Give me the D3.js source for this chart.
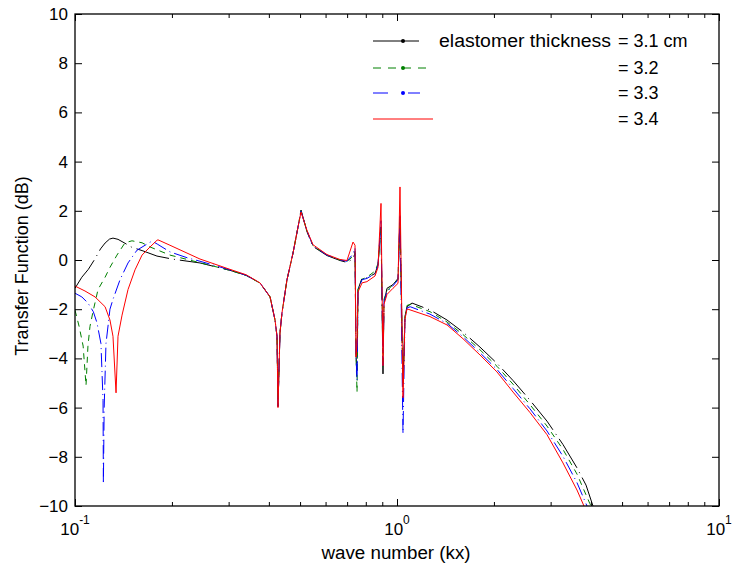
<!DOCTYPE html>
<html>
<head>
<meta charset="utf-8">
<script src="https://cdn.jsdelivr.net/npm/d3@7/dist/d3.min.js"></script>
<style>
  html, body { margin: 0; padding: 0; background: #fff; }
  svg { display: block; font-family: Arial, "Liberation Sans", Helvetica, sans-serif; }
</style>
</head>
<body>
<svg id="chart" width="735" height="571"></svg>
<script>
// ---------------- data (wave number kx, transfer function dB) ----------------
const seriesNames = ["3.1", "3.2", "3.3", "3.4"];

const series31 = [
  [0.1000,-1.15],[0.1014,-1.02],[0.1050,-0.70],[0.1100,-0.38],[0.1154,0.05],[0.1200,0.45],
  [0.1240,0.69],[0.1280,0.85],[0.1312,0.89],[0.1360,0.84],[0.1430,0.68],[0.1500,0.52],
  [0.1626,0.37],[0.1797,0.16],[0.2000,0.04],[0.2444,-0.12],[0.3029,-0.42],[0.3400,-0.62],
  [0.3754,-0.93],[0.4034,-1.50],[0.4180,-2.44],[0.4240,-3.10],[0.4270,-5.95],[0.4331,-2.97],
  [0.4393,-2.15],[0.4554,-0.80],[0.4754,0.28],[0.4927,1.34],[0.5034,2.03],[0.5254,1.15],
  [0.5484,0.55],[0.6062,0.18],[0.6652,-0.02],[0.6993,-0.10],[0.7302,0.05],[0.7407,0.28],
  [0.7460,-3.90],[0.7514,-4.50],[0.7567,-1.20],[0.7788,-0.73],[0.8065,-0.73],[0.8545,-0.55],
  [0.8730,-0.20],[0.8919,1.34],[0.9047,-4.63],[0.9112,-1.75],[0.9309,-1.15],[0.9718,-1.00],
  [1.0072,-0.75],[1.0216,1.70],[1.0438,-5.00],[1.0587,-2.30],[1.0740,-1.90],[1.1133,-1.75],
  [1.266,-2.03],[1.430,-2.44],[1.603,-2.93],[1.810,-3.54],[2.044,-4.20],[2.293,-4.90],
  [2.588,-5.70],[2.923,-6.55],[3.277,-7.50],[3.622,-8.45],[3.864,-9.15],[4.061,-10.0]
];

const series32 = [
  [0.1000,-2.04],[0.1030,-2.70],[0.1060,-3.50],[0.1082,-5.10],[0.1097,-3.50],[0.1113,-2.70],
  [0.1140,-2.04],[0.1179,-1.20],[0.1240,-0.70],[0.1284,-0.30],[0.1350,0.20],[0.1430,0.70],
  [0.1503,0.78],[0.1615,0.70],[0.1710,0.53],[0.1972,0.20],[0.2393,-0.08],[0.3029,-0.42],
  [0.3400,-0.63],[0.3754,-0.94],[0.4034,-1.50],[0.4180,-2.44],[0.4240,-3.10],[0.4270,-5.95],
  [0.4331,-2.97],[0.4393,-2.15],[0.4554,-0.80],[0.4754,0.28],[0.4927,1.34],[0.5034,2.00],
  [0.5254,1.18],[0.5484,0.58],[0.6062,0.20],[0.6652,0.00],[0.6993,-0.06],[0.7302,0.15],
  [0.7407,0.35],[0.7460,-3.90],[0.7514,-5.37],[0.7567,-1.20],[0.7788,-0.78],[0.8065,-0.70],
  [0.8545,-0.45],[0.8730,-0.15],[0.8919,1.40],[0.9047,-4.40],[0.9112,-1.60],[0.9309,-1.25],
  [0.9718,-1.00],[1.0072,-0.78],[1.0216,1.75],[1.0438,-5.20],[1.0587,-2.35],[1.0740,-1.85],
  [1.0989,-1.80],[1.266,-2.10],[1.430,-2.52],[1.603,-3.03],[1.810,-3.65],[2.044,-4.32],
  [2.293,-5.05],[2.588,-5.88],[2.923,-6.75],[3.277,-7.70],[3.622,-8.70],[3.970,-9.90],[4.004,-10.0]
];

const series33 = [
  [0.1000,-1.35],[0.1050,-1.50],[0.1097,-1.75],[0.1140,-2.10],[0.1170,-2.55],[0.1204,-3.40],
  [0.1222,-5.70],[0.1225,-9.10],[0.1232,-6.00],[0.1248,-3.40],[0.1284,-2.00],[0.1312,-1.60],
  [0.1380,-0.80],[0.1461,-0.12],[0.1558,0.40],[0.1734,0.77],[0.1800,0.65],[0.1972,0.33],
  [0.2244,0.08],[0.2444,-0.05],[0.3029,-0.40],[0.3400,-0.62],[0.3754,-0.93],[0.4034,-1.50],
  [0.4180,-2.44],[0.4240,-3.10],[0.4270,-5.95],[0.4331,-2.97],[0.4393,-2.15],[0.4554,-0.80],
  [0.4754,0.28],[0.4927,1.34],[0.5034,1.98],[0.5254,1.18],[0.5484,0.58],[0.6062,0.20],
  [0.6652,0.00],[0.6993,-0.05],[0.7302,0.25],[0.7407,0.49],[0.7460,-3.90],[0.7514,-4.90],
  [0.7567,-1.20],[0.7788,-0.80],[0.8065,-0.75],[0.8545,-0.55],[0.8730,-0.20],[0.8919,1.60],
  [0.9047,-4.30],[0.9112,-1.70],[0.9309,-1.30],[0.9718,-1.05],[1.0072,-0.80],[1.0216,1.80],
  [1.0438,-7.05],[1.0587,-2.35],[1.0740,-1.95],[1.0989,-1.90],[1.266,-2.20],[1.430,-2.58],
  [1.603,-3.12],[1.810,-3.77],[2.044,-4.45],[2.293,-5.22],[2.588,-6.05],[2.923,-6.95],
  [3.277,-7.98],[3.622,-9.05],[3.891,-10.0]
];

const series34 = [
  [0.1000,-1.06],[0.1074,-1.26],[0.1154,-1.50],[0.1240,-1.90],[0.1284,-2.44],[0.1312,-3.10],
  [0.1341,-5.40],[0.1360,-3.10],[0.1400,-2.24],[0.1461,-1.20],[0.1536,-0.40],[0.1615,0.20],
  [0.1710,0.53],[0.1797,0.80],[0.1810,0.82],[0.1972,0.60],[0.2444,0.04],[0.3029,-0.38],
  [0.3400,-0.60],[0.3754,-0.93],[0.4034,-1.50],[0.4180,-2.44],[0.4240,-3.10],[0.4270,-6.00],
  [0.4331,-2.97],[0.4393,-2.15],[0.4554,-0.80],[0.4754,0.28],[0.4927,1.34],[0.5034,1.95],
  [0.5254,1.20],[0.5484,0.62],[0.6062,0.22],[0.6652,0.02],[0.6993,-0.02],[0.7302,0.73],
  [0.7407,0.60],[0.7460,-3.94],[0.7514,-3.40],[0.7567,-1.30],[0.7788,-0.93],[0.8065,-0.88],
  [0.8545,-0.65],[0.8730,-0.30],[0.8919,2.30],[0.9047,-4.30],[0.9112,-1.80],[0.9309,-1.40],
  [0.9718,-1.15],[1.0072,-0.95],[1.0216,2.97],[1.0438,-5.60],[1.0587,-2.40],[1.0740,-2.00],
  [1.0820,-2.00],[1.266,-2.30],[1.430,-2.64],[1.603,-3.20],[1.810,-3.86],[2.044,-4.55],
  [2.293,-5.37],[2.588,-6.20],[2.923,-7.10],[3.277,-8.25],[3.622,-9.35],[3.808,-10.0]
];

const allSeries = [series31, series32, series33, series34];
const seriesColors = ["#000000", "#008000", "#0000ff", "#ff0000"];
const seriesDash = ["34,5,1,5", "6,5", "14,4,1,4", null];

const xMajorTicks = [0.1, 1, 10];
const xTickExponents = ["-1", "0", "1"];
const yTicks = [-10, -8, -6, -4, -2, 0, 2, 4, 6, 8, 10];

const legendLabels = ["= 3.1 cm", "= 3.2", "= 3.3", "= 3.4"];
const legendTitle = "elastomer thickness";
const xLabel = "wave number (kx)";
const yLabel = "Transfer Function (dB)";

// ---------------- layout ----------------
const W = 735, H = 571;
const m = { left: 75, top: 14, right: 16, bottom: 65 };
const svg = d3.select("#chart");

const x = d3.scaleLog().domain([0.1, 10]).range([m.left, W - m.right]);
const y = d3.scaleLinear().domain([-10, 10]).range([H - m.bottom, m.top]);

const xMinor = [];
[0.1, 1].forEach(d => { for (let k = 2; k <= 9; k++) xMinor.push(d * k); });

// clip
svg.append("defs").append("clipPath").attr("id", "clip")
  .append("rect").attr("x", m.left).attr("y", m.top)
  .attr("width", W - m.left - m.right).attr("height", H - m.top - m.bottom);

// series
const line = d3.line().x(d => x(d[0])).y(d => y(d[1]));
const g = svg.append("g").attr("clip-path", "url(#clip)");
allSeries.forEach((s, i) => {
  g.append("path").datum(s)
    .attr("d", line)
    .attr("fill", "none")
    .attr("stroke", seriesColors[i])
    .attr("stroke-width", 1)
    .attr("stroke-dasharray", seriesDash[i]);
});

// axes (ticks inward)
function styleAxis(sel) {
  sel.select(".domain").remove();
  sel.selectAll(".tick line").attr("stroke", "#000").attr("stroke-width", 1);
}
svg.append("g").attr("transform", `translate(0,${y(-10)})`)
  .call(d3.axisBottom(x).tickValues(xMajorTicks).tickSizeInner(-7).tickSizeOuter(0).tickFormat(""))
  .call(styleAxis);
svg.append("g").attr("transform", `translate(0,${y(-10)})`)
  .call(d3.axisBottom(x).tickValues(xMinor).tickSizeInner(-4).tickSizeOuter(0).tickFormat(""))
  .call(styleAxis);
svg.append("g").attr("transform", `translate(0,${y(10)})`)
  .call(d3.axisTop(x).tickValues(xMajorTicks).tickSizeInner(-7).tickSizeOuter(0).tickFormat(""))
  .call(styleAxis);
svg.append("g").attr("transform", `translate(0,${y(10)})`)
  .call(d3.axisTop(x).tickValues(xMinor).tickSizeInner(-4).tickSizeOuter(0).tickFormat(""))
  .call(styleAxis);

const yAx = svg.append("g").attr("transform", `translate(${x(0.1)},0)`)
  .call(d3.axisLeft(y).tickValues(yTicks).tickSizeInner(-7).tickSizeOuter(0).tickPadding(7).tickFormat(d3.format("d")))
  .call(styleAxis);
yAx.selectAll(".tick text").attr("font-size", 17).attr("fill", "#000")
  .attr("font-family", "Arial, 'Liberation Sans', sans-serif");
svg.append("g").attr("transform", `translate(${x(10)},0)`)
  .call(d3.axisRight(y).tickValues(yTicks).tickSizeInner(-7).tickSizeOuter(0).tickFormat(""))
  .call(styleAxis);

// frame
svg.append("rect").attr("x", m.left).attr("y", m.top)
  .attr("width", W - m.left - m.right).attr("height", H - m.top - m.bottom)
  .attr("fill", "none").attr("stroke", "#000").attr("stroke-width", 1.3);

// x tick labels 10^n
xMajorTicks.forEach((v, i) => {
  const t = svg.append("text").attr("x", x(v)).attr("y", 535)
    .attr("text-anchor", "middle").attr("font-size", 17).attr("fill", "#000");
  t.append("tspan").text("10");
  t.append("tspan").attr("dy", -11).attr("font-size", 12).text(xTickExponents[i]);
});

// axis labels
svg.append("text").attr("x", 396).attr("y", 559).attr("text-anchor", "middle")
  .attr("font-size", 18).attr("textLength", 149).attr("lengthAdjust", "spacingAndGlyphs")
  .text(xLabel);
svg.append("text").attr("transform", "translate(28,266) rotate(-90)")
  .attr("text-anchor", "middle").attr("font-size", 18)
  .text(yLabel);

// legend
const legY = [41, 68, 93, 119];
const legLen = [46, 54, 47, 60];
const lg = svg.append("g");
allSeries.forEach((s, i) => {
  lg.append("line").attr("x1", 373).attr("x2", 373 + legLen[i])
    .attr("y1", legY[i]).attr("y2", legY[i])
    .attr("stroke", seriesColors[i]).attr("stroke-width", 1)
    .attr("stroke-dasharray", i === 0 ? null : (i === 1 ? "8,7" : (i === 2 ? "15,20,12" : null)));
  if (i < 3) {
    lg.append("circle").attr("cx", 403).attr("cy", legY[i]).attr("r", 2)
      .attr("fill", seriesColors[i]);
  }
  lg.append("text").attr("x", 618).attr("y", legY[i] + 6).attr("font-size", 18)
    .attr("fill", "#000").text(legendLabels[i]);
});
lg.append("text").attr("x", 439).attr("y", legY[0] + 6).attr("font-size", 18)
  .attr("textLength", 172).attr("lengthAdjust", "spacingAndGlyphs").text(legendTitle);
</script>
</body>
</html>
